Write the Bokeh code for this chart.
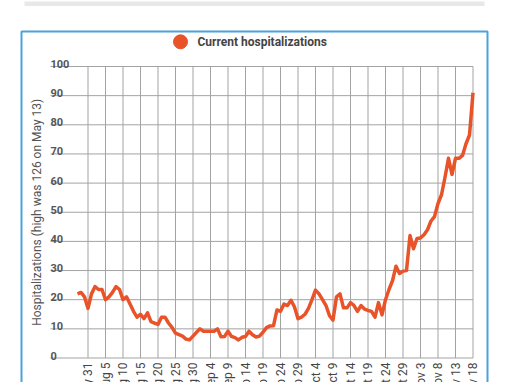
import numpy as np
import pandas as pd
from bokeh.plotting import figure
from bokeh.models import Range1d
from bokeh.core.properties import value
from bokeh.embed import file_html
from bokeh.resources import INLINE

# ---------------- data ----------------
start_date = "2020-07-28"
hospitalizations = [
    22, 22.5, 21, 17, 22, 24.5, 23.5, 23.5, 20, 21,
    22.5, 24.5, 23.5, 20, 21, 18.5, 16, 14, 15, 13.5,
    15.5, 12.5, 12, 11.5, 14, 14, 12, 10.5, 8.5, 8,
    7.5, 6.5, 6.2, 7.5, 8.8, 10, 9.2, 9.2, 9.2, 9.2,
    10, 7.3, 7.4, 9.2, 7.4, 7, 6.2, 7.1, 7.4, 9.2,
    8, 7.2, 7.5, 8.9, 10.4, 11, 11.1, 16.5, 16, 18.5,
    18, 19.8, 17.5, 13.5, 14, 15, 17, 20, 23.3, 22,
    20, 18, 14.5, 13, 21, 22, 17.2, 17.2, 19, 18,
    16, 18, 16.8, 16.3, 16, 14, 19, 14.8, 20, 23.5,
    26.5, 31.5, 29, 29.8, 30, 42, 37.5, 41, 41.2, 42.3,
    44, 47, 48.5, 53, 56, 62, 68.5, 63, 68.5, 68.5,
    69.5, 73.5, 76.5, 91,
]
x_tick_labels = ["July 31", "Aug 5", "Aug 10", "Aug 15", "Aug 20", "Aug 25",
                 "Aug 30", "Sep 4", "Sep 9", "Sep 14", "Sep 19", "Sep 24",
                 "Sep 29", "Oct 4", "Oct 9", "Oct 14", "Oct 19", "Oct 24",
                 "Oct 29", "Nov 3", "Nov 8", "Nov 13", "Nov 18"]
y_ticks = [0, 10, 20, 30, 40, 50, 60, 70, 80, 90, 100]
series_name = "Current hospitalizations"
y_title = "Hospitalizations (high was 126 on May 13)"

# ---------------- derived positions ----------------
ref = pd.Timestamp("2020-07-31")
dates = pd.date_range(start_date, periods=len(hospitalizations), freq="D")
day = np.asarray((dates - ref).days, dtype=float)
tick_days = [(pd.to_datetime(l + " 2020") - ref).days for l in x_tick_labels]

W, H = 510, 382
PX_DAY = 3.5          # pixels per day
X_REF_PX = 87.5       # canvas x of reference day
PX_UNIT = 2.915       # pixels per hospitalization
Y_ZERO_PX = 357.5     # canvas y (from top) of value 0

def dx(px):  # canvas px -> day units
    return (px - X_REF_PX) / PX_DAY

def dy(py):  # canvas px from top -> value units
    return (Y_ZERO_PX - py) / PX_UNIT

p = figure(width=W, height=H, output_backend="svg", toolbar_location=None,
           x_range=Range1d(dx(0), dx(W)), y_range=Range1d(dy(H), dy(0)),
           x_axis_location=None, y_axis_location=None, min_border=0)
p.grid.visible = False
p.outline_line_color = None
p.background_fill_color = "white"
p.border_fill_color = "white"

FONT = value("Roboto")
LINE_COLOR = "#e8532a"
GRID_COLOR = "#a3a3a3"

plot_left = dx(50)
plot_right = tick_days[-1]

# top gray bar
p.quad(left=[dx(24)], right=[dx(484)], top=[dy(1)], bottom=[dy(5.5)],
       fill_color="#e8e8e8", line_color=None)

# outer box
p.quad(left=[dx(21)], right=[dx(487)], top=[dy(31)], bottom=[dy(H + 40)],
       fill_alpha=0, line_color="#4aa2dc", line_width=2)

# grid
p.segment(x0=[plot_left] * len(y_ticks), x1=[plot_right] * len(y_ticks),
          y0=y_ticks, y1=y_ticks, line_color=GRID_COLOR, line_width=1)
p.segment(x0=tick_days, x1=tick_days, y0=[y_ticks[0]] * len(tick_days),
          y1=[y_ticks[-1]] * len(tick_days), line_color=GRID_COLOR, line_width=1)

# y tick labels above gridlines
gap = 2.5 / PX_UNIT
p.text(x=[plot_left] * len(y_ticks), y=[v + gap for v in y_ticks],
       text=[str(v) for v in y_ticks], text_font=FONT, text_font_size="11px",
       text_font_style="bold", text_color="#555555", text_align="left",
       text_baseline="alphabetic")

# x tick labels, vertical
p.text(x=tick_days, y=[dy(362)] * len(tick_days), text=x_tick_labels,
       angle=np.pi / 2, text_font=FONT, text_font_size="12px",
       text_color="#444444", text_align="right", text_baseline="middle")

# y axis title
p.text(x=[dx(36)], y=[50], text=[y_title], angle=np.pi / 2, text_font=FONT,
       text_font_size="12px", text_color="#555555", text_align="center",
       text_baseline="middle")

# series line
p.line(day, hospitalizations, line_color=LINE_COLOR, line_width=3.5,
       line_join="round")

# legend
p.scatter(x=[dx(180)], y=[dy(41.3)], size=14, fill_color=LINE_COLOR,
          line_color=LINE_COLOR)
p.text(x=[dx(197)], y=[dy(41.3)], text=[series_name], text_font=FONT,
       text_font_size="12px", text_font_style="bold", text_color="#444444",
       text_align="left", text_baseline="middle")

open("out.html", "w").write(file_html(p, INLINE))
